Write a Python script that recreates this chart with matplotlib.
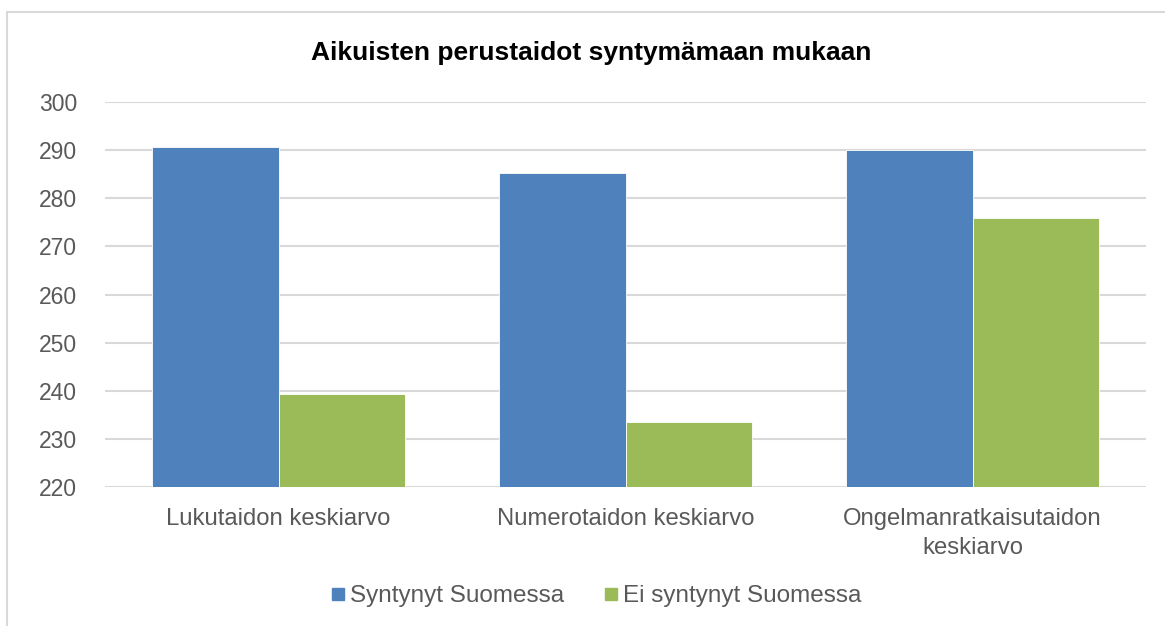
import numpy as np
import matplotlib.pyplot as plt
from matplotlib.patches import Rectangle
from matplotlib.lines import Line2D

plt.rcParams['font.family'] = ['Liberation Sans', 'DejaVu Sans']

# data
categories = ['Lukutaidon keskiarvo', 'Numerotaidon keskiarvo',
              'Ongelmanratkaisutaidon\nkeskiarvo']
series_names = ['Syntynyt Suomessa', 'Ei syntynyt Suomessa']
born_fi = [290.6, 285.2, 290.0]
born_other = [239.4, 233.5, 275.9]
yticks = [220, 230, 240, 250, 260, 270, 280, 290, 300]

blue = '#4F81BD'
green = '#9BBB59'
txt = '#595959'

fig = plt.figure(figsize=(11.65, 6.26), dpi=100)
ax = fig.add_axes([105/1165, 139/626, 1041/1165, 385/626])

# chart border (light gray, runs off the right/bottom)
fig.patches.append(Rectangle((7/1165, -0.1), 1.2, (614+0.1*626)/626,
                             transform=fig.transFigure, fill=False,
                             edgecolor='#D9D9D9', linewidth=1.5, zorder=0))

x = np.arange(len(categories))
w = 0.3635
ax.bar(x - w/2, np.array(born_fi) - 220, w, bottom=220, color=blue,
       edgecolor='white', linewidth=0.6, zorder=3)
ax.bar(x + w/2, np.array(born_other) - 220, w, bottom=220, color=green,
       edgecolor='white', linewidth=0.6, zorder=3)

ax.set_xlim(-0.5, 2.5)
ax.set_ylim(220, 300)
ax.set_yticks(yticks)
ax.set_xticks(x)
ax.set_xticklabels(categories, fontsize=17.2, color=txt, linespacing=1.45)
ax.tick_params(axis='y', labelsize=16.5, labelcolor=txt, length=0, pad=20)
ax.tick_params(axis='x', length=0, pad=15)

ax.grid(axis='y', color='#D9D9D9', linewidth=1.5, zorder=0)
ax.set_axisbelow(True)
for s in ax.spines.values():
    s.set_visible(False)

fig.text(591/1165, 1 - 53/626, 'Aikuisten perustaidot syntymämaan mukaan',
         ha='center', va='center', fontsize=19, fontweight='bold', color='black')

handles = [Line2D([], [], marker='s', linestyle='none', markersize=8,
                  markerfacecolor=c, markeredgecolor=c) for c in (blue, green)]
fig.legend(handles, series_names, loc='center', bbox_to_anchor=(596/1165, 1 - 596/626),
           ncol=2, frameon=False, fontsize=17.5, labelcolor=txt,
           handletextpad=0.2, columnspacing=1.65, handlelength=0.6)

fig.savefig('out.png', dpi=100)
